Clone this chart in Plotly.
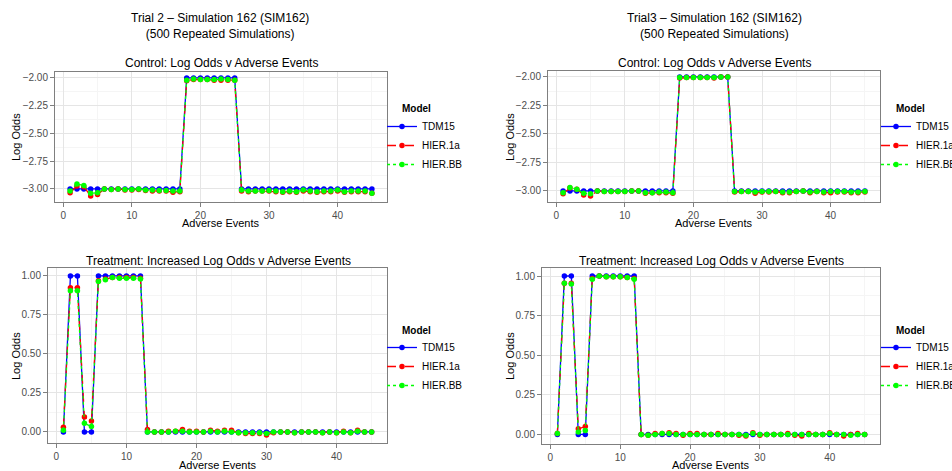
import plotly.graph_objects as go

# ---------------- data ----------------
adverse_events = list(range(1, 46))
models = ["TDM15", "HIER.1a", "HIER.BB"]
colors = ["#0000FF", "#FF0000", "#00FF00"]
dashes = ["solid", "dash", "dot"]

ctrl_t2_tdm15 = [-3, -3, -3, -3, -3, -3, -3, -3, -3, -3, -3, -3, -3, -3, -3, -3, -3,
                 -2, -2, -2, -2, -2, -2, -2, -2,
                 -3, -3, -3, -3, -3, -3, -3, -3, -3, -3, -3, -3, -3, -3, -3, -3, -3, -3, -3, -3]
ctrl_t2_hier1a = [-3.035, -2.975, -2.98, -3.065, -3.05, -3.0, -3.005, -3.0, -3.01, -3.01, -3.005, -3.015,
                  -3.02, -3.02, -3.02, -3.03, -3.025,
                  -2.025, -2.015, -2.015, -2.015, -2.02, -2.02, -2.02, -2.02,
                  -3.02, -3.025, -3.02, -3.02, -3.02, -3.025, -3.03, -3.025, -3.03, -3.02, -3.025,
                  -3.03, -3.025, -3.025, -3.02, -3.03, -3.025, -3.025, -3.025, -3.04]
ctrl_t2_hierbb = [-3.02, -2.955, -2.97, -3.04, -3.035, -3.0, -3.005, -3.0, -3.005, -3.005, -3.0, -3.01,
                  -3.01, -3.015, -3.015, -3.02, -3.02,
                  -2.02, -2.01, -2.015, -2.015, -2.015, -2.01, -2.015, -2.02,
                  -3.01, -3.02, -3.02, -3.02, -3.015, -3.02, -3.025, -3.02, -3.025, -3.01, -3.02,
                  -3.025, -3.02, -3.02, -3.01, -3.025, -3.02, -3.02, -3.02, -3.04]

ctrl_t3_tdm15 = ctrl_t2_tdm15
ctrl_t3_hier1a = [-3.025, -2.975, -2.985, -3.035, -3.045, -3.0, -3.005, -3.005, -3.005, -3.005, -3.0, -3.0,
                  -3.02, -3.015, -3.015, -3.015, -3.02,
                  -2.01, -2.005, -2.005, -2.005, -2.005, -2.01, -2.0, -2.0,
                  -3.01, -3.005, -3.005, -3.02, -3.01, -3.01, -3.005, -3.015, -3.015, -3.005, -3.0,
                  -3.015, -3.005, -3.015, -3.015, -3.01, -3.01, -3.015, -3.015, -3.01]
ctrl_t3_hierbb = [-3.015, -2.97, -2.985, -3.02, -3.025, -3.0, -3.005, -3.005, -3.005, -3.005, -3.0, -3.0,
                  -3.015, -3.015, -3.01, -3.01, -3.015,
                  -2.005, -2.005, -2.005, -2.005, -2.005, -2.005, -2.0, -2.0,
                  -3.005, -3.005, -3.005, -3.01, -3.005, -3.005, -3.005, -3.01, -3.01, -3.005, -3.0,
                  -3.01, -3.005, -3.01, -3.005, -3.005, -3.005, -3.01, -3.01, -3.005]

trt_t2_tdm15 = [0, 1, 1, 0, 0, 1, 1, 1, 1, 1, 1, 1,
                0, 0, 0, 0, 0, 0, 0, 0, 0, 0, 0, 0, 0, 0, 0, 0, 0, 0, 0, 0, 0, 0, 0, 0, 0, 0, 0, 0, 0, 0, 0, 0, 0]
trt_t2_hier1a = [0.03, 0.925, 0.925, 0.095, 0.07, 0.97, 0.98, 0.99, 0.99, 0.99, 0.99, 0.985,
                 0.015, 0.0, 0.0, 0.005, 0.005, 0.015, 0.005, 0.005, 0.0, 0.01, 0.005, 0.01, 0.01,
                 -0.005, -0.01, -0.01, -0.01, -0.02, -0.005, 0.0, 0.0, -0.005, 0.0, 0.0, 0.0, -0.005,
                 0.0, -0.005, 0.005, -0.005, 0.01, 0.0, 0.0]
trt_t2_hierbb = [0.01, 0.905, 0.905, 0.055, 0.035, 0.965, 0.975, 0.99, 0.985, 0.985, 0.985, 0.98,
                 0.0, 0.0, 0.0, 0.0, 0.005, 0.005, 0.0, 0.0, 0.0, 0.005, 0.0, 0.005, 0.0,
                 -0.005, -0.005, -0.005, -0.005, -0.01, 0.0, 0.0, 0.0, -0.005, 0.0, 0.0, 0.0, -0.005,
                 0.0, -0.005, 0.0, -0.005, 0.005, 0.0, 0.0]

trt_t3_tdm15 = trt_t2_tdm15
trt_t3_hier1a = [0.005, 0.955, 0.955, 0.035, 0.05, 0.985, 1.0, 0.995, 0.995, 0.995, 0.99, 0.985,
                 0.0, -0.005, 0.005, 0.005, 0.01, 0.005, -0.005, 0.005, 0.005, 0.0, 0.0, 0.005, 0.0,
                 0.0, -0.005, -0.01, 0.01, -0.005, 0.0, 0.0, 0.0, 0.005, -0.005, -0.01, 0.005, 0.0,
                 0.0, 0.01, 0.0, -0.01, 0.0, 0.005, 0.0]
trt_t3_hierbb = [0.005, 0.955, 0.95, 0.015, 0.025, 0.98, 1.0, 0.995, 0.995, 0.995, 0.99, 0.98,
                 0.0, -0.005, 0.0, 0.005, 0.005, 0.0, 0.0, 0.0, 0.0, 0.0, 0.0, 0.0, 0.0,
                 0.0, 0.0, -0.005, 0.005, 0.0, 0.0, 0.0, 0.0, 0.0, 0.0, 0.0, 0.0, 0.0,
                 0.0, 0.005, 0.0, 0.0, -0.005, 0.0, 0.0]

ctrl_ticks = [-3.0, -2.75, -2.5, -2.25, -2.0]
trt_ticks = [0.0, 0.25, 0.5, 0.75, 1.0]
x_ticks = [0, 10, 20, 30, 40]

# ---------------- layout geometry ----------------
W, H = 952, 471

def px_x(p):
    return p / W

def px_y(p):
    return 1 - p / H

panels = [
    ([ctrl_t2_tdm15, ctrl_t2_hier1a, ctrl_t2_hierbb], ctrl_ticks, (55, 387), (72, 202), "legend"),
    ([ctrl_t3_tdm15, ctrl_t3_hier1a, ctrl_t3_hierbb], ctrl_ticks, (548, 880), (71, 202), "legend2"),
    ([trt_t2_tdm15, trt_t2_hier1a, trt_t2_hierbb], trt_ticks, (48, 387), (268, 443), "legend3"),
    ([trt_t3_tdm15, trt_t3_hier1a, trt_t3_hierbb], trt_ticks, (542, 880), (268, 444), "legend4"),
]

fig = go.Figure()
font_family = "Liberation Sans, Arial, sans-serif"
tick_font = dict(family=font_family, size=10, color="#4D4D4D")
layout_updates = {}
ann = []

for i, (series, ticks, xd, yd, leg) in enumerate(panels):
    n = i + 1
    xa = "x" if n == 1 else f"x{n}"
    ya = "y" if n == 1 else f"y{n}"
    for m, ys, col, dsh in zip(models, series, colors, dashes):
        fig.add_trace(go.Scatter(
            x=adverse_events, y=ys, name=m, mode="lines+markers",
            line=dict(color=col, width=1.3, dash=dsh),
            marker=dict(color=col, size=5.5, symbol="circle"),
            xaxis=xa, yaxis=ya, legend=leg, showlegend=True,
        ))
    allv = [v for s in series for v in s]
    lo, hi = min(allv), max(allv)
    pad = (hi - lo) * 0.05
    xlo, xhi = min(adverse_events), max(adverse_events)
    xpad = (xhi - xlo) * 0.05
    axis_common = dict(
        showgrid=True, gridcolor="#E5E5E5", gridwidth=1,
        zeroline=False, showline=True, mirror=True, linecolor="#7F7F7F", linewidth=1,
        ticks="outside", ticklen=4, tickcolor="#7F7F7F", tickwidth=1,
        tickfont=tick_font, automargin=False,
    )
    layout_updates["xaxis" if n == 1 else f"xaxis{n}"] = dict(
        axis_common, domain=[px_x(xd[0]), px_x(xd[1])], anchor=ya,
        range=[xlo - xpad, xhi + xpad], tickvals=x_ticks,
        minor=dict(showgrid=True, gridcolor="#F5F5F5", tickvals=[5, 15, 25, 35, 45]),
    )
    minor_y = [(ticks[k] + ticks[k + 1]) / 2 for k in range(len(ticks) - 1)]
    layout_updates["yaxis" if n == 1 else f"yaxis{n}"] = dict(
        axis_common, domain=[px_y(yd[1]), px_y(yd[0])], anchor=xa,
        range=[lo - pad, hi + pad], tickvals=ticks,
        ticktext=[f"{t:.2f}".replace("-", "\u2212") for t in ticks],
        minor=dict(showgrid=True, gridcolor="#F5F5F5", tickvals=minor_y),
    )
    title_y = 109 if n <= 2 else 330
    title_x = 400 if n in (1, 3) else 894
    legend_top = title_y + 3
    legend_left = title_x - 18
    layout_updates[leg] = dict(
        x=px_x(legend_left), y=px_y(legend_top), xanchor="left", yanchor="top",
        font=dict(family=font_family, size=10, color="black"),
        bgcolor="rgba(0,0,0,0)", itemwidth=30, tracegroupgap=0,
    )
    ann.append(dict(x=px_x(title_x), y=px_y(title_y), xref="paper", yref="paper",
                    text="<b>Model</b>", showarrow=False, xanchor="left", yanchor="middle",
                    font=dict(family=font_family, size=10, color="black")))

fig.update_layout(**layout_updates)

title_font = dict(family=font_family, size=12, color="black")
for cx, txt in [(220, "Trial 2 \u2013 Simulation 162 (SIM162)<br>(500 Repeated Simulations)"),
                (714, "Trial3 \u2013 Simulation 162 (SIM162)<br>(500 Repeated Simulations)")]:
    ann.append(dict(x=px_x(cx), y=px_y(26), xref="paper", yref="paper", text=txt,
                    showarrow=False, font=title_font, xanchor="center", yanchor="middle"))
for cx, cy, txt in [(221, 63, "Control: Log Odds v Adverse Events"),
                    (714, 63, "Control: Log Odds v Adverse Events"),
                    (218, 261, "Treatment: Increased Log Odds v Adverse Events"),
                    (711, 261, "Treatment: Increased Log Odds v Adverse Events")]:
    ann.append(dict(x=px_x(cx), y=px_y(cy), xref="paper", yref="paper", text=txt,
                    showarrow=False, font=title_font, xanchor="center", yanchor="middle"))
axis_title_font = dict(family=font_family, size=11, color="black")
for cx, cy in [(221, 223), (714, 223), (218, 465), (711, 465)]:
    ann.append(dict(x=px_x(cx), y=px_y(cy), xref="paper", yref="paper", text="Adverse Events",
                    showarrow=False, font=axis_title_font, xanchor="center", yanchor="middle"))
for cx, cy in [(16, 137), (510, 137), (16, 356), (510, 356)]:
    ann.append(dict(x=px_x(cx), y=px_y(cy), xref="paper", yref="paper", text="Log Odds",
                    showarrow=False, font=axis_title_font, textangle=-90,
                    xanchor="center", yanchor="middle"))

fig.update_layout(
    width=W, height=H, margin=dict(l=0, r=0, t=0, b=0, autoexpand=False),
    paper_bgcolor="white", plot_bgcolor="white",
    annotations=ann, font=dict(family=font_family),
)

fig.write_html("out.html", config={"displayModeBar": False},
               post_script="document.body.style.margin='0px';document.body.style.overflow='hidden';")
